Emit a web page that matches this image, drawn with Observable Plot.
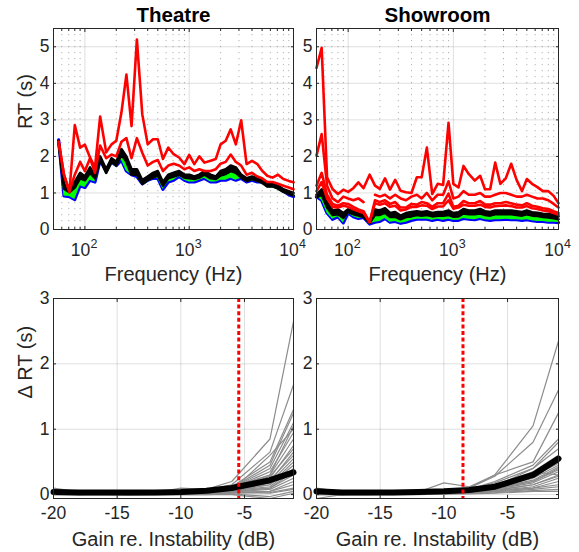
<!DOCTYPE html>
<html>
<head>
<meta charset="utf-8">
<script src="https://cdn.jsdelivr.net/npm/d3@7"></script>
<script src="https://cdn.jsdelivr.net/npm/@observablehq/plot@0.6"></script>
<style>
html,body{margin:0;padding:0;background:#fff;}
#chart{position:relative;width:579px;height:552px;overflow:hidden;background:#fff;}
#chart svg{position:absolute;overflow:visible;background:transparent;}
</style>
</head>
<body>
<div id="chart"></div>
<script>
// ---------- data ----------
const freqTheatre = [56, 63, 71, 80, 90, 100, 112, 125, 140, 160, 180, 200, 224, 250, 280, 315, 355, 400, 450, 500, 560, 630, 710, 800, 900, 1000, 1120, 1250, 1400, 1600, 1800, 2000, 2240, 2500, 2800, 3150, 3550, 4000, 4500, 5000, 5600, 6300, 7100, 8000, 9000, 10000];
const freqShowroom = [50, 56, 63, 71, 80, 90, 100, 112, 125, 140, 160, 180, 200, 224, 250, 280, 315, 355, 400, 450, 500, 560, 630, 710, 800, 900, 1000, 1120, 1250, 1400, 1600, 1800, 2000, 2240, 2500, 2800, 3150, 3550, 4000, 4500, 5000, 5600, 6300, 7100, 8000, 9000, 10000];

const theatreBlue    = [2.45, 0.92, 0.90, 0.82, 1.20, 1.15, 1.35, 1.30, 1.90, 1.60, 1.85, 1.75, 1.90, 1.60, 1.50, 1.45, 1.25, 1.35, 1.40, 1.40, 1.10, 1.30, 1.35, 1.45, 1.35, 1.30, 1.30, 1.35, 1.40, 1.30, 1.30, 1.35, 1.35, 1.40, 1.35, 1.40, 1.30, 1.35, 1.30, 1.30, 1.20, 1.20, 1.15, 1.05, 0.95, 0.90];
const theatreBlackLo = [2.35, 1.12, 1.02, 1.15, 1.40, 1.35, 1.55, 1.40, 1.90, 1.55, 1.85, 1.75, 2.05, 1.85, 1.50, 1.50, 1.25, 1.35, 1.42, 1.48, 1.20, 1.40, 1.45, 1.50, 1.42, 1.40, 1.38, 1.42, 1.50, 1.40, 1.38, 1.48, 1.52, 1.60, 1.55, 1.42, 1.33, 1.38, 1.33, 1.28, 1.18, 1.18, 1.12, 1.03, 0.98, 0.93];
const theatreBlackHi = [2.42, 1.25, 1.12, 1.30, 1.55, 1.45, 1.70, 1.50, 2.00, 1.65, 1.95, 1.85, 2.20, 2.00, 1.65, 1.65, 1.35, 1.45, 1.55, 1.60, 1.30, 1.50, 1.55, 1.60, 1.50, 1.50, 1.45, 1.50, 1.60, 1.50, 1.45, 1.60, 1.65, 1.75, 1.70, 1.50, 1.40, 1.45, 1.40, 1.35, 1.25, 1.25, 1.20, 1.10, 1.05, 1.00];
const theatreRedMid  = [2.40, 1.50, 1.05, 1.50, 1.85, 1.60, 1.95, 1.55, 2.30, 1.95, 2.05, 2.00, 2.40, 2.50, 1.95, 2.50, 2.10, 1.75, 1.85, 1.90, 1.60, 1.75, 1.80, 1.75, 1.65, 1.70, 1.60, 1.65, 1.60, 1.60, 1.65, 1.80, 1.85, 2.05, 1.85, 1.75, 1.50, 1.55, 1.45, 1.40, 1.30, 1.30, 1.25, 1.20, 1.15, 1.10];
const theatreRedHigh = [2.40, 1.50, 1.02, 2.86, 2.24, 2.32, 1.97, 1.70, 3.09, 2.11, 2.33, 2.43, 3.20, 4.24, 2.83, 5.20, 3.15, 2.33, 2.47, 2.47, 1.93, 2.24, 2.06, 1.97, 1.79, 2.04, 1.79, 2.00, 1.83, 1.88, 1.93, 2.33, 2.43, 2.74, 2.33, 2.99, 1.79, 1.88, 1.79, 1.61, 1.47, 1.42, 1.50, 1.38, 1.33, 1.29];

const showroomBlue    = [0.90, 0.80, 0.45, 0.28, 0.35, 0.18, 0.45, 0.35, 0.30, 0.33, 0.15, 0.20, 0.22, 0.30, 0.20, 0.22, 0.17, 0.20, 0.25, 0.28, 0.28, 0.28, 0.25, 0.28, 0.25, 0.28, 0.25, 0.25, 0.30, 0.28, 0.27, 0.30, 0.27, 0.25, 0.27, 0.27, 0.28, 0.27, 0.27, 0.25, 0.27, 0.24, 0.22, 0.22, 0.20, 0.20, 0.19];
const showroomBlackLo = [0.88, 0.95, 0.60, 0.40, 0.42, 0.32, 0.48, 0.42, 0.38, 0.34, 0.18, 0.40, 0.40, 0.46, 0.34, 0.35, 0.28, 0.34, 0.36, 0.40, 0.38, 0.40, 0.36, 0.38, 0.38, 0.40, 0.35, 0.36, 0.44, 0.42, 0.42, 0.44, 0.40, 0.38, 0.42, 0.42, 0.42, 0.42, 0.40, 0.38, 0.42, 0.38, 0.37, 0.34, 0.33, 0.31, 0.28];
const showroomBlackHi = [0.95, 1.10, 0.75, 0.52, 0.55, 0.45, 0.55, 0.50, 0.45, 0.40, 0.20, 0.55, 0.52, 0.58, 0.45, 0.48, 0.38, 0.45, 0.48, 0.50, 0.48, 0.50, 0.45, 0.48, 0.48, 0.52, 0.45, 0.47, 0.56, 0.52, 0.52, 0.56, 0.50, 0.48, 0.52, 0.52, 0.52, 0.52, 0.50, 0.48, 0.52, 0.47, 0.46, 0.43, 0.42, 0.40, 0.36];
const showroomRed4 = [1.05, 1.30, 0.85, 0.62, 0.60, 0.65, 0.62, 0.55, 0.50, 0.45, 0.20, 0.72, 0.68, 0.72, 0.62, 0.65, 0.52, 0.55, 0.62, 0.62, 0.66, 0.65, 0.56, 0.63, 0.63, 0.80, 0.57, 0.60, 0.68, 0.65, 0.65, 0.68, 0.62, 0.60, 0.64, 0.65, 0.66, 0.64, 0.60, 0.60, 0.64, 0.58, 0.56, 0.52, 0.50, 0.45, 0.40];
const showroomRed3 = [1.20, 1.55, 0.95, 0.70, 0.65, 0.72, 0.70, 0.62, 0.55, 0.50, 0.20, 0.80, 0.75, 0.80, 0.70, 0.75, 0.60, 0.60, 0.70, 0.68, 0.75, 0.72, 0.62, 0.72, 0.72, 0.98, 0.62, 0.65, 0.78, 0.72, 0.72, 0.78, 0.68, 0.68, 0.72, 0.72, 0.75, 0.72, 0.68, 0.66, 0.72, 0.65, 0.62, 0.58, 0.56, 0.50, 0.45];
const showroomRed2 = [2.02, 2.61, 1.20, 0.85, 0.75, 0.90, 0.85, 0.80, 0.85, 0.75, NaN, 0.95, 0.90, 0.95, 0.85, 0.95, 0.85, 0.80, 0.90, 0.95, 0.85, 1.00, 0.80, 0.95, 0.95, 1.32, 0.85, 0.90, 1.05, 0.95, 0.95, 1.00, 0.90, 0.90, 0.95, 1.00, 1.00, 0.95, 0.90, 0.90, 0.95, 0.90, 0.85, 0.85, 0.80, 0.70, 0.60];
const showroomRed1 = [4.42, 4.97, 1.43, 1.11, 0.97, 1.09, 1.03, 1.13, 1.29, 1.13, 1.50, 1.20, 1.11, 1.40, 1.09, 1.36, 1.06, 1.02, 1.00, 1.43, 1.43, 2.24, 0.97, 1.25, 1.22, 2.92, 1.25, 1.15, 1.74, 1.52, 1.34, 1.47, 1.10, 1.10, 1.83, 1.25, 1.40, 1.80, 1.35, 1.05, 1.38, 1.25, 1.16, 1.05, 1.05, 0.92, 0.72];

const theatreGains = [-20, -18, -16, -14, -12, -10, -8, -6, -3, -1.15];
const showroomGains = [-20, -18, -16, -14, -12, -10, -8, -6, -3, -1];

const theatreDeltaRT = [
  [0.05, 0.03, 0.03, 0.03, 0.03, 0.05, 0.08, 0.20, 0.85, 2.65],
  [0.04, 0.03, 0.03, 0.02, 0.03, 0.04, 0.07, 0.15, 0.65, 1.68],
  [0.03, 0.02, 0.02, 0.03, 0.03, 0.10, 0.08, 0.12, 0.50, 1.30],
  [0.05, 0.03, 0.03, 0.03, 0.03, 0.04, 0.06, 0.10, 0.45, 1.25],
  [0.04, 0.02, 0.03, 0.03, 0.02, 0.03, 0.05, 0.10, 0.40, 1.10],
  [0.03, 0.03, 0.02, 0.03, 0.04, 0.05, 0.06, 0.12, 0.30, 1.05],
  [0.10, 0.04, 0.03, 0.02, 0.03, 0.03, 0.05, 0.10, 0.35, 0.95],
  [0.04, 0.03, 0.03, 0.03, 0.03, 0.05, 0.06, 0.09, 0.30, 0.85],
  [0.02, 0.02, 0.03, 0.02, 0.03, 0.04, 0.05, 0.08, 0.25, 0.75],
  [0.03, 0.03, 0.02, 0.03, 0.02, 0.04, 0.05, 0.08, 0.28, 0.70],
  [0.03, 0.02, 0.02, 0.02, 0.03, 0.03, 0.04, 0.07, 0.20, 0.65],
  [0.03, 0.03, 0.03, 0.02, 0.03, 0.04, 0.05, 0.10, 0.22, 0.60],
  [0.02, 0.02, 0.02, 0.03, 0.02, 0.03, 0.04, 0.06, 0.18, 0.55],
  [0.03, 0.02, 0.03, 0.02, 0.02, 0.03, 0.04, 0.08, 0.15, 0.50],
  [0.02, 0.02, 0.02, 0.02, 0.02, 0.03, 0.03, 0.05, 0.15, 0.45],
  [0.02, 0.01, 0.02, 0.02, 0.02, 0.03, 0.04, 0.06, 0.12, 0.40],
  [0.02, 0.02, 0.02, 0.02, 0.02, 0.02, 0.03, 0.05, 0.10, 0.35],
  [0.01, 0.01, 0.02, 0.01, 0.02, 0.02, 0.03, 0.04, 0.10, 0.30],
  [0.02, 0.01, 0.01, 0.02, 0.01, 0.02, 0.03, 0.04, 0.08, 0.25],
  [0.01, 0.01, 0.01, 0.01, 0.01, 0.02, 0.02, 0.03, 0.05, 0.20],
  [0.01, 0.01, 0.01, 0.01, 0.01, 0.01, 0.02, 0.03, 0.05, 0.15],
  [0.01, 0.00, 0.01, 0.00, 0.01, 0.01, 0.01, 0.02, 0.03, 0.10],
  [0.00, 0.00, 0.00, 0.00, 0.00, 0.00, 0.00, 0.01, -0.03, 0.05],
  [0.00, 0.00, 0.00, -0.01, 0.00, 0.00, 0.00, 0.00, -0.06, 0.02],
  [0.02, 0.01, 0.01, 0.01, 0.01, 0.02, 0.03, 0.05, 0.02, 0.08],
  [0.03, 0.02, 0.02, 0.02, 0.02, 0.03, 0.04, 0.06, 0.60, 1.00]
];
const theatreMeanDeltaRT = [0.04, 0.03, 0.03, 0.03, 0.03, 0.04, 0.06, 0.10, 0.22, 0.34];

const showroomDeltaRT = [
  [0.05, 0.03, 0.03, 0.03, 0.04, 0.05, 0.10, 0.30, 1.05, 2.35],
  [0.05, 0.03, 0.03, 0.04, 0.04, 0.06, 0.10, 0.28, 0.80, 1.60],
  [0.04, 0.03, 0.03, 0.03, 0.04, 0.18, 0.12, 0.30, 0.50, 1.25],
  [0.04, 0.03, 0.03, 0.03, 0.03, 0.05, 0.08, 0.20, 0.45, 0.85],
  [0.04, 0.03, 0.03, 0.03, 0.03, 0.05, 0.08, 0.18, 0.40, 0.80],
  [0.03, 0.03, 0.03, 0.03, 0.03, 0.04, 0.07, 0.15, 0.35, 0.60],
  [0.03, 0.02, 0.03, 0.03, 0.03, 0.04, 0.07, 0.15, 0.30, 0.55],
  [0.10, 0.04, 0.03, 0.03, 0.03, 0.04, 0.06, 0.12, 0.30, 0.50],
  [-0.06, 0.00, 0.02, 0.02, 0.03, 0.04, 0.06, 0.12, 0.28, 0.48],
  [0.03, 0.02, 0.02, 0.03, 0.03, 0.04, 0.06, 0.10, 0.25, 0.45],
  [0.03, 0.02, 0.02, 0.02, 0.03, 0.04, 0.05, 0.10, 0.22, 0.42],
  [0.02, 0.02, 0.02, 0.02, 0.03, 0.03, 0.05, 0.10, 0.20, 0.40],
  [0.02, 0.02, 0.02, 0.02, 0.02, 0.03, 0.05, 0.08, 0.20, 0.38],
  [0.02, 0.02, 0.02, 0.02, 0.02, 0.03, 0.04, 0.08, 0.18, 0.35],
  [0.02, 0.01, 0.02, 0.02, 0.02, 0.03, 0.04, 0.07, 0.15, 0.30],
  [0.02, 0.01, 0.01, 0.02, 0.02, 0.03, 0.04, 0.06, 0.15, 0.28],
  [0.01, 0.01, 0.01, 0.01, 0.02, 0.02, 0.03, 0.06, 0.12, 0.25],
  [0.01, 0.01, 0.01, 0.01, 0.01, 0.02, 0.03, 0.05, 0.10, 0.20],
  [0.01, 0.01, 0.01, 0.01, 0.01, 0.02, 0.03, 0.05, 0.10, 0.15],
  [0.01, 0.00, 0.01, 0.01, 0.01, 0.01, 0.02, 0.04, 0.08, 0.12],
  [0.00, 0.00, 0.00, 0.01, 0.01, 0.01, 0.02, 0.03, 0.06, 0.08],
  [0.00, 0.00, 0.00, 0.00, 0.00, 0.01, 0.01, 0.02, 0.05, 0.05],
  [0.02, 0.02, 0.02, 0.02, 0.02, 0.03, 0.05, 0.10, 0.35, 0.30],
  [0.03, 0.02, 0.02, 0.02, 0.02, 0.03, 0.05, 0.12, 0.40, 0.70]
];
const showroomMeanDeltaRT = [0.05, 0.03, 0.03, 0.03, 0.04, 0.05, 0.07, 0.12, 0.30, 0.55];

const theatreThreshold = -5.45;
const showroomThreshold = -8.5;

const freqMajorTicks = [100, 1000, 10000];
const freqMinorTicks = [50, 60, 70, 80, 90, 200, 300, 400, 500, 600, 700, 800, 900, 2000, 3000, 4000, 5000, 6000, 7000, 8000, 9000];
const rtTicks = [0, 1, 2, 3, 4, 5];
const gainTicks = [-20, -15, -10, -5];
const deltaTicks = [0, 1, 2, 3];

// ---------- styling ----------
const FONT = "Helvetica, 'Liberation Sans', Arial, sans-serif";
const INK = "#262626";
const TICK = 17.5, LABEL = 20, TITLE = 20.5;

function rowsOf(xs, ys) { return xs.map((x, i) => ({x, y: ys[i]})); }
function bandOf(xs, lo, hi) { return xs.map((x, i) => ({x, lo: lo[i], hi: hi[i]})); }
function mount(svg, left, top) {
  svg.style.left = left + "px";
  svg.style.top = top + "px";
  svg.style.background = "transparent";
  document.getElementById("chart").appendChild(svg);
}

function boxAxes(xTicks, yTicks, xMinor) {
  const m = [
    Plot.axisX({ticks: xTicks, anchor: "bottom", tickSize: -3, fill: "none", stroke: INK, label: null}),
    Plot.axisX({ticks: xTicks, anchor: "top", tickSize: -3, fill: "none", stroke: INK, label: null}),
    Plot.axisY({ticks: yTicks, anchor: "left", tickSize: -3, fill: "none", stroke: INK, label: null}),
    Plot.axisY({ticks: yTicks, anchor: "right", tickSize: -3, fill: "none", stroke: INK, label: null})
  ];
  if (xMinor) {
    m.push(Plot.axisX({ticks: xMinor, anchor: "bottom", tickSize: -2, fill: "none", stroke: INK, label: null}));
    m.push(Plot.axisX({ticks: xMinor, anchor: "top", tickSize: -2, fill: "none", stroke: INK, label: null}));
  }
  return m;
}

function freqPanel(o) {
  const reds = o.reds.map(r => Plot.line(rowsOf(o.freqs, r), {x: "x", y: "y", stroke: "#ff0000", strokeWidth: 2.6}));
  const marks = [
    Plot.gridX({ticks: freqMinorTicks, stroke: "#000", strokeOpacity: 0.3, strokeDasharray: "1.2,4.8", strokeWidth: 1}),
    Plot.gridX({ticks: freqMajorTicks, stroke: "#000", strokeOpacity: 0.13, strokeWidth: 1}),
    Plot.gridY({ticks: rtTicks, stroke: "#000", strokeOpacity: 0.13, strokeWidth: 1}),
    Plot.line(rowsOf(o.freqs, o.blue), {x: "x", y: "y", stroke: "#0000ff", strokeWidth: 3.2}),
    Plot.areaY(bandOf(o.freqs, o.blue, o.blackLo), {x: "x", y1: "lo", y2: "hi", fill: "#00ff00"}),
    Plot.line(rowsOf(o.freqs, o.blackLo), {x: "x", y: "y", stroke: "#00ff00", strokeWidth: 2}),
    Plot.areaY(bandOf(o.freqs, o.blackLo, o.blackHi), {x: "x", y1: "lo", y2: "hi", fill: "#000"}),
    Plot.line(rowsOf(o.freqs, o.blackLo), {x: "x", y: "y", stroke: "#000", strokeWidth: 2.6}),
    Plot.line(rowsOf(o.freqs, o.blackHi), {x: "x", y: "y", stroke: "#000", strokeWidth: 2.6}),
    ...reds,
    Plot.frame({stroke: INK, strokeWidth: 1}),
    ...boxAxes(freqMajorTicks, rtTicks, freqMinorTicks),
    Plot.axisX({ticks: freqMajorTicks, anchor: "bottom", tickSize: 0, tickPadding: 14, tickFormat: () => "10", dx: -4.5, fill: INK, fontSize: TICK, label: null}),
    Plot.axisX({ticks: freqMajorTicks, anchor: "bottom", tickSize: 0, tickPadding: 10, tickFormat: d => String(Math.round(Math.log10(d))), dx: 5.5, textAnchor: "start", fill: INK, fontSize: 12.5, label: null}),
    Plot.axisY({ticks: rtTicks, anchor: "left", tickSize: 0, tickPadding: 4, tickFormat: d => String(d), fill: INK, fontSize: TICK, label: null}),
    Plot.text([o.title], {text: d => d, frameAnchor: "top", lineAnchor: "bottom", dy: -7, fontSize: TITLE, fontWeight: "bold", fill: "#000"}),
    Plot.text(["Frequency (Hz)"], {text: d => d, frameAnchor: "bottom", lineAnchor: "bottom", dy: 51, fontSize: LABEL, fill: INK})
  ];
  if (o.yLabel) marks.push(Plot.text([o.yLabel], {text: d => d, frameAnchor: "left", rotate: -90, lineAnchor: "bottom", dx: -22, fontSize: LABEL, fill: INK}));
  return Plot.plot({
    width: o.width, height: 290,
    marginLeft: o.mL, marginRight: o.mR, marginTop: 28, marginBottom: 61,
    style: {fontFamily: FONT, fontSize: TICK + "px", color: INK, background: "transparent", overflow: "visible"},
    x: {type: "log", domain: [50, 10000]},
    y: {domain: [0, 5.5]},
    marks
  });
}

function gainPanel(o) {
  const grays = o.delta.flatMap((arr, k) => arr.map((v, i) => ({x: o.gains[i], y: v, k})));
  const marks = [
    Plot.gridX({ticks: gainTicks, stroke: "#000", strokeOpacity: 0.13, strokeWidth: 1}),
    Plot.gridY({ticks: deltaTicks, stroke: "#000", strokeOpacity: 0.13, strokeWidth: 1}),
    Plot.line(grays, {x: "x", y: "y", z: "k", stroke: "#8c8c8c", strokeWidth: 1.2}),
    Plot.line(rowsOf(o.gains, o.mean), {x: "x", y: "y", stroke: "#000", strokeWidth: 6}),
    Plot.ruleX([o.threshold], {x: d => d, stroke: "#ff0000", strokeWidth: 3, strokeDasharray: "4,2.6"}),
    Plot.frame({stroke: INK, strokeWidth: 1}),
    ...boxAxes(gainTicks, deltaTicks, null),
    Plot.axisX({ticks: gainTicks, anchor: "bottom", tickSize: 0, tickPadding: 8, tickFormat: d => String(d), fill: INK, fontSize: TICK, label: null}),
    Plot.axisY({ticks: deltaTicks, anchor: "left", tickSize: 0, tickPadding: 4, tickFormat: d => String(d), fill: INK, fontSize: TICK, label: null}),
    Plot.text(["Gain re. Instability (dB)"], {text: d => d, frameAnchor: "bottom", lineAnchor: "bottom", dy: 47, fontSize: LABEL, fill: INK})
  ];
  if (o.yLabel) marks.push(Plot.text([o.yLabel], {text: d => d, frameAnchor: "left", rotate: -90, lineAnchor: "bottom", dx: -22, fontSize: LABEL, fill: INK}));
  return Plot.plot({
    width: o.width, height: 262,
    marginLeft: o.mL, marginRight: o.mR, marginTop: 8, marginBottom: 54,
    style: {fontFamily: FONT, fontSize: TICK + "px", color: INK, background: "transparent", overflow: "visible"},
    x: {domain: [-20, o.gains[o.gains.length - 1]]},
    y: {domain: [-0.06, 3]},
    marks
  });
}

mount(freqPanel({
  title: "Theatre", yLabel: "RT (s)", freqs: freqTheatre, width: 300, mL: 53, mR: 7,
  blue: theatreBlue, blackLo: theatreBlackLo, blackHi: theatreBlackHi,
  reds: [theatreRedMid, theatreRedHigh]
}), 0, 0);

mount(freqPanel({
  title: "Showroom", yLabel: null, freqs: freqShowroom, width: 279, mL: 16, mR: 21,
  blue: showroomBlue, blackLo: showroomBlackLo, blackHi: showroomBlackHi,
  reds: [showroomRed4, showroomRed3, showroomRed2, showroomRed1]
}), 300, 0);

mount(gainPanel({
  yLabel: "Δ RT (s)", gains: theatreGains, delta: theatreDeltaRT, mean: theatreMeanDeltaRT,
  threshold: theatreThreshold, width: 300, mL: 53, mR: 7
}), 0, 290);

mount(gainPanel({
  yLabel: null, gains: showroomGains, delta: showroomDeltaRT, mean: showroomMeanDeltaRT,
  threshold: showroomThreshold, width: 279, mL: 16, mR: 21
}), 300, 290);
</script>
</body>
</html>
